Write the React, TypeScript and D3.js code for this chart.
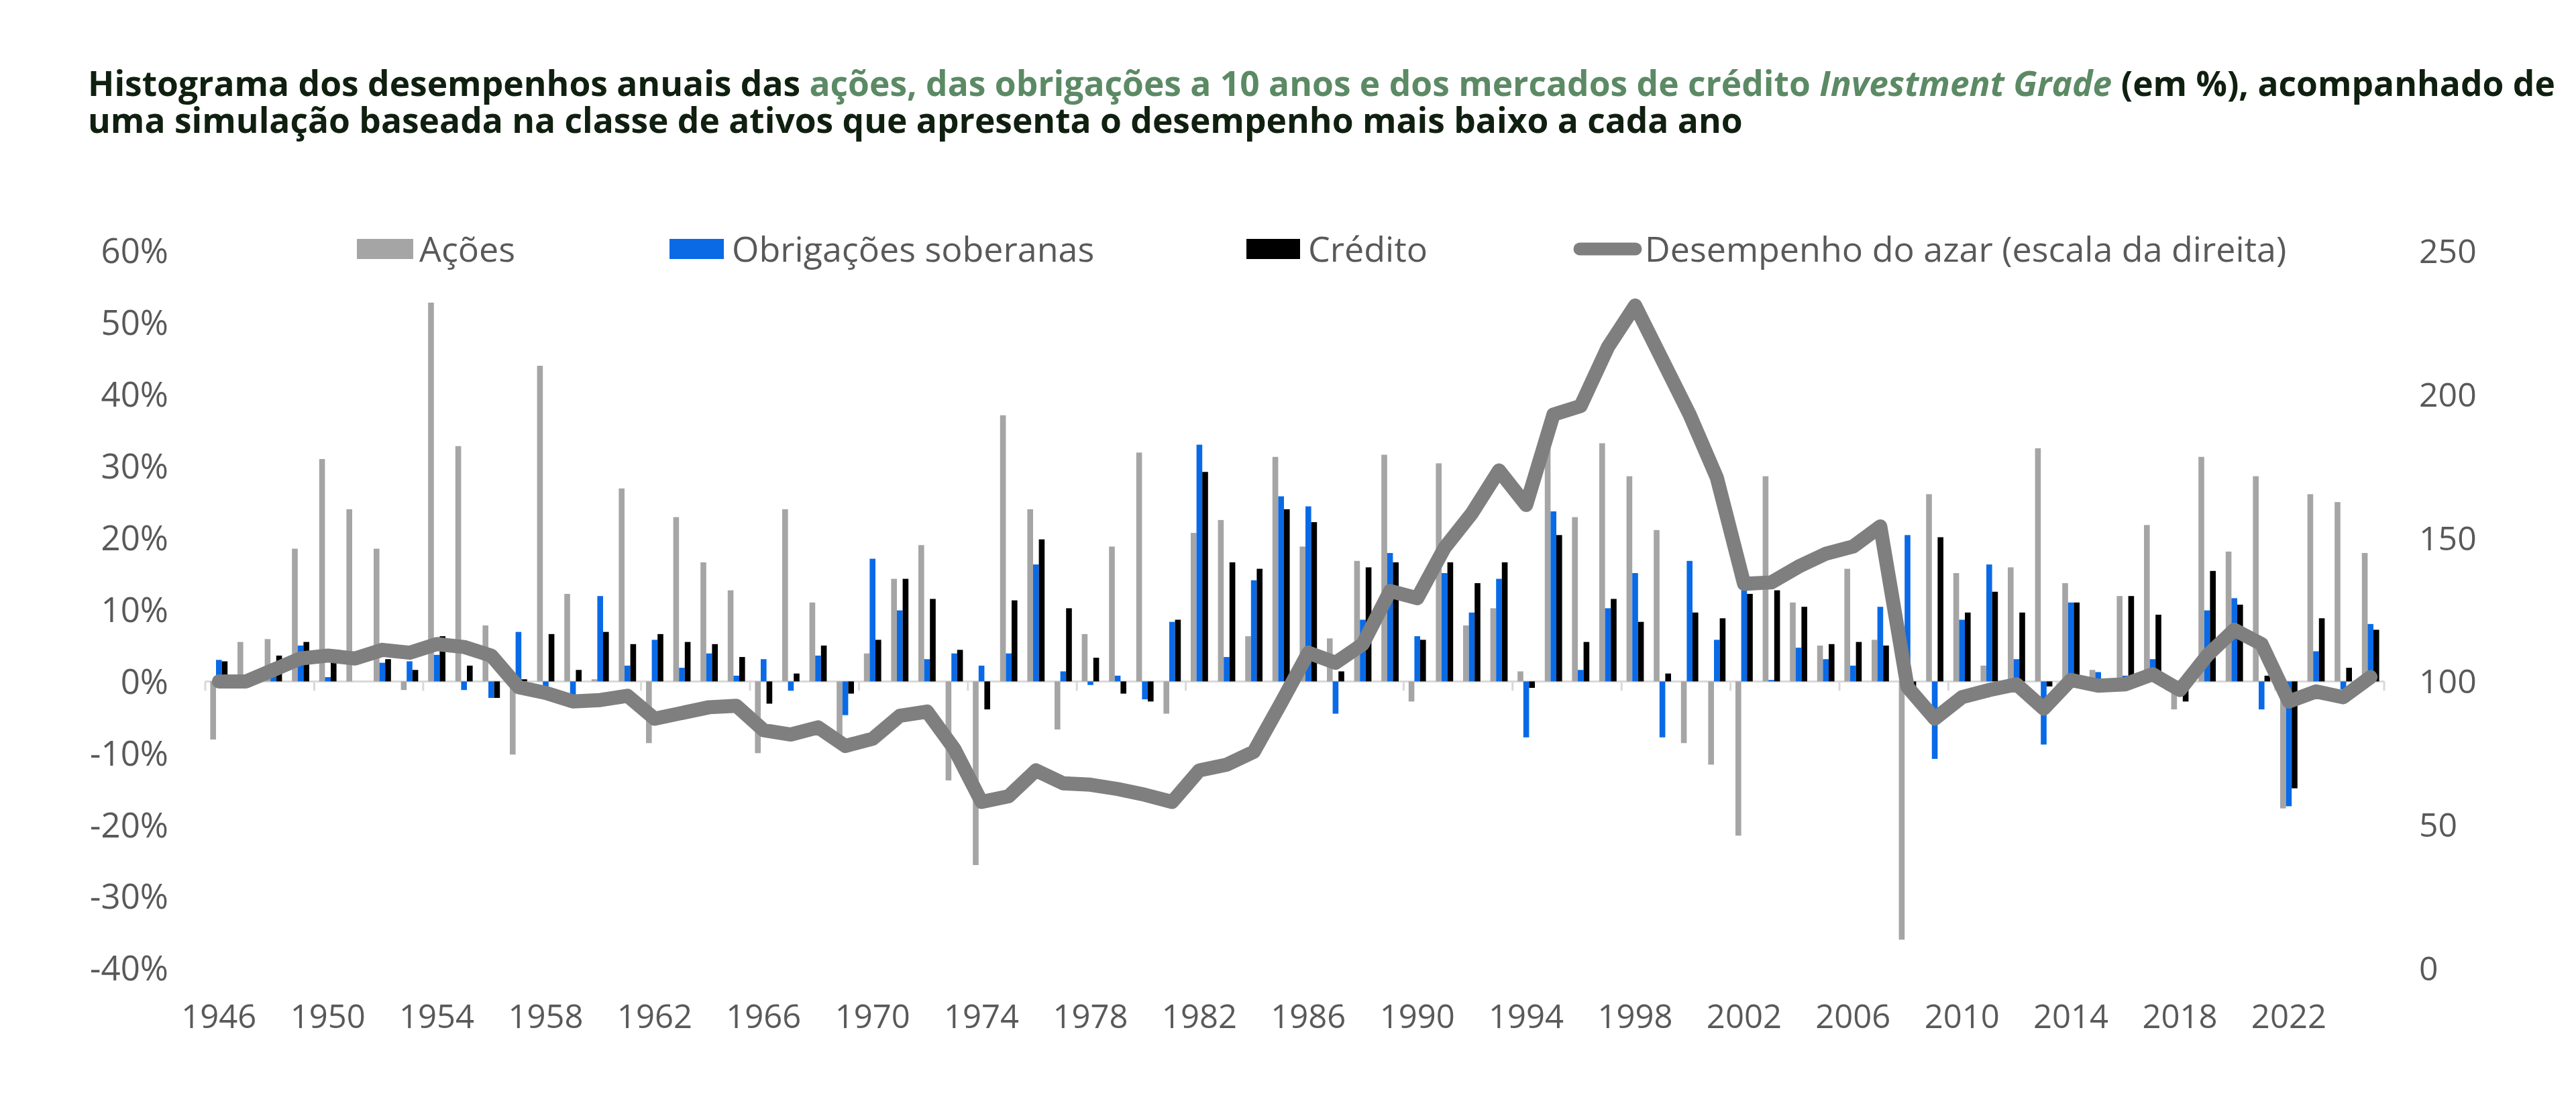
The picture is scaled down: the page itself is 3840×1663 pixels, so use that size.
import * as d3 from "d3";
import { useEffect, useRef } from "react";

const years = d3.range(1946, 2026);

// rendimentos anuais (%)
const acoes = [
  -8.1, 5.5, 5.9, 18.5, 31, 24, 18.5, -1.2, 52.8, 32.8,
  7.8, -10.2, 44, 12.2, 0.3, 26.9, -8.6, 22.9, 16.6, 12.7,
  -10, 24, 11, -7.8, 3.9, 14.3, 19, -13.8, -25.6, 37.1,
  24, -6.7, 6.6, 18.8, 31.9, -4.5, 20.7, 22.5, 6.3, 31.3,
  18.8, 6, 16.8, 31.6, -2.8, 30.4, 7.8, 10.2, 1.4, 36,
  22.9, 33.2, 28.6, 21.1, -8.6, -11.6, -21.5, 28.6, 11, 5,
  15.7, 5.8, -36, 26.1, 15.1, 2.2, 15.9, 32.5, 13.7, 1.6,
  11.9, 21.8, -3.9, 31.3, 18.1, 28.6, -17.7, 26.1, 25, 17.9,
];
const obrigacoes = [
  3.0, 0, 2.2, 5, 0.6, 0, 2.6, 2.8, 3.7, -1.2,
  -2.3, 6.9, -1.2, -2.3, 11.9, 2.2, 5.8, 1.9, 3.9, 0.8,
  3.1, -1.3, 3.6, -4.7, 17.1, 9.9, 3.1, 3.9, 2.2, 3.9,
  16.3, 1.4, -0.5, 0.8, -2.5, 8.3, 33, 3.4, 14.1, 25.8,
  24.4, -4.5, 8.6, 17.9, 6.3, 15.1, 9.6, 14.3, -7.8, 23.7,
  1.6, 10.2, 15.1, -7.8, 16.8, 5.8, 12.7, 0.2, 4.7, 3.1,
  2.2, 10.4, 20.4, -10.8, 8.6, 16.3, 3.1, -8.8, 11, 1.3,
  0.8, 3.1, 0.1, 9.9, 11.6, -3.9, -17.4, 4.2, -1.1, 8,
];
const credito = [
  2.8, 0, 3.6, 5.5, 4.3, 0, 3.1, 1.6, 6.3, 2.2,
  -2.3, 0.3, 6.6, 1.6, 6.9, 5.2, 6.6, 5.5, 5.2, 3.4,
  -3.1, 1.1, 5, -1.7, 5.8, 14.3, 11.5, 4.4, -3.9, 11.3,
  19.8, 10.2, 3.3, -1.7, -2.8, 8.6, 29.2, 16.6, 15.7, 24,
  22.2, 1.4, 15.9, 16.6, 5.8, 16.6, 13.7, 16.6, -0.9, 20.4,
  5.5, 11.5, 8.3, 1.1, 9.6, 8.8, 12.2, 12.7, 10.4, 5.2,
  5.5, 5, -2.5, 20.1, 9.6, 12.5, 9.6, -0.7, 11, 0.2,
  11.9, 9.3, -2.8, 15.4, 10.7, 0.8, -14.9, 8.8, 1.9, 7.2,
];
// simulação (escala da direita)
const azar = [
  100, 100, 104, 108, 109, 108, 111, 110, 113, 112,
  109, 98, 96, 93, 93.5, 95, 87, 89, 91, 91.5,
  83, 81.5, 84, 77.5, 80, 88, 89.5, 76.5, 58, 60,
  69, 64.5, 64, 62.5, 60.5, 58, 69, 71, 75.5, 92.5,
  110, 106.5, 113, 131.5, 129, 146.5, 158.5, 173.5, 161.5, 193,
  196, 216.5, 231, 212, 193, 171, 134, 134.5, 140, 144.5,
  147, 154, 98, 87, 94.5, 97, 99, 90.5, 100.5, 98.5,
  99, 102.5, 97, 109, 118, 113, 93, 96.5, 94.5, 101.5,
];

const leftTicks = [60, 50, 40, 30, 20, 10, 0, -10, -20, -30, -40];
const rightTicks = [250, 200, 150, 100, 50, 0];

const seriesNames = ["Ações", "Obrigações soberanas", "Crédito"];
const seriesColors = ["#a5a5a5", "#0a6ae6", "#000000"];
const lineName = "Desempenho do azar (escala da direita)";

const W = 3840;
const H = 1663;
const FONT = "'Open Sans', 'Noto Sans', sans-serif";

const App = () => {
  const ref = useRef<SVGSVGElement | null>(null);

  useEffect(() => {
    const svg = d3.select(ref.current);
    svg.selectAll("*").remove();

    const plot = { left: 306, right: 3554, top: 374, bottom: 1443 };

    const x = d3.scaleBand<number>().domain(years).range([plot.left, plot.right]);
    const bw = x.bandwidth();
    const groupW = 25.8;
    const xi = d3
      .scaleBand<number>()
      .domain([0, 1, 2])
      .range([(bw - groupW) / 2, (bw + groupW) / 2]);

    const yL = d3.scaleLinear().domain([-40, 60]).range([plot.bottom, plot.top]);
    const yR = d3.scaleLinear().domain([0, 250]).range([plot.bottom, plot.top]);

    // title
    const title = svg
      .append("text")
      .attr("x", 131)
      .attr("y", 143)
      .style("font-family", FONT)
      .style("font-weight", "700")
      .style("font-size", "51.5px")
      .style("fill", "#102010");
    title.append("tspan").text("Histograma dos desempenhos anuais das ");
    title
      .append("tspan")
      .style("fill", "#5b8a64")
      .text("ações, das obrigações a 10 anos e dos mercados de crédito ");
    title
      .append("tspan")
      .style("fill", "#5b8a64")
      .style("font-style", "italic")
      .text("Investment Grade");
    title.append("tspan").text(" (em %), acompanhado de");
    svg
      .append("text")
      .attr("x", 131)
      .attr("y", 198)
      .style("font-family", FONT)
      .style("font-weight", "700")
      .style("font-size", "51.5px")
      .style("fill", "#102010")
      .text("uma simulação baseada na classe de ativos que apresenta o desempenho mais baixo a cada ano");

    const labelStyle = (size: number) => (sel: any) =>
      sel.style("font-family", FONT).style("font-size", `${size}px`).style("fill", "#595959");

    // left axis
    svg
      .append("g")
      .selectAll("text")
      .data(leftTicks)
      .enter()
      .append("text")
      .attr("x", 251)
      .attr("y", (d) => yL(d))
      .attr("dy", "0.36em")
      .attr("text-anchor", "end")
      .text((d) => `${d}%`)
      .call(labelStyle(51));

    // right axis
    svg
      .append("g")
      .selectAll("text")
      .data(rightTicks)
      .enter()
      .append("text")
      .attr("x", 3606)
      .attr("y", (d) => yR(d))
      .attr("dy", "0.36em")
      .attr("text-anchor", "start")
      .text((d) => d)
      .call(labelStyle(50));

    // zero line and ticks
    const y0 = yL(0);
    svg
      .append("line")
      .attr("x1", plot.left)
      .attr("x2", plot.right)
      .attr("y1", y0)
      .attr("y2", y0)
      .style("stroke", "#d9d9d9")
      .style("stroke-width", 3);
    svg
      .append("g")
      .selectAll("line")
      .data(years.filter((_, i) => i % 4 === 0).concat([2026]))
      .enter()
      .append("line")
      .attr("x1", (d) => (d === 2026 ? plot.right : x(d)!))
      .attr("x2", (d) => (d === 2026 ? plot.right : x(d)!))
      .attr("y1", y0)
      .attr("y2", y0 + 14)
      .style("stroke", "#d9d9d9")
      .style("stroke-width", 3);

    // x labels
    svg
      .append("g")
      .selectAll("text")
      .data(years.filter((_, i) => i % 4 === 0))
      .enter()
      .append("text")
      .attr("x", (d) => x(d)! + bw / 2)
      .attr("y", 1532)
      .attr("text-anchor", "middle")
      .text((d) => d)
      .call(labelStyle(49));

    // bars
    const seriesData = [acoes, obrigacoes, credito];
    seriesData.forEach((vals, s) => {
      svg
        .append("g")
        .selectAll("rect")
        .data(vals)
        .enter()
        .append("rect")
        .attr("x", (_, i) => x(years[i])! + xi(s)!)
        .attr("width", xi.bandwidth())
        .attr("y", (d) => Math.min(yL(d), y0))
        .attr("height", (d) => Math.abs(yL(d) - y0))
        .attr("fill", seriesColors[s]);
    });

    // line
    const line = d3
      .line<number>()
      .x((_, i) => x(years[i])! + bw / 2)
      .y((d) => yR(d));
    svg
      .append("path")
      .datum(azar)
      .attr("d", line)
      .attr("fill", "none")
      .attr("stroke", "#7f7f7f")
      .attr("stroke-width", 21)
      .attr("stroke-linejoin", "round")
      .attr("stroke-linecap", "round");

    // legend
    const legendY = 371;
    const swatches = [
      { x: 532, w: 84, tx: 625 },
      { x: 998, w: 81, tx: 1091 },
      { x: 1858, w: 80, tx: 1950 },
    ];
    const legend = svg.append("g");
    swatches.forEach((sw, i) => {
      legend
        .append("rect")
        .attr("x", sw.x)
        .attr("y", legendY - 15)
        .attr("width", sw.w)
        .attr("height", 30)
        .attr("fill", seriesColors[i]);
      legend
        .append("text")
        .attr("x", sw.tx)
        .attr("y", legendY)
        .attr("dy", "0.36em")
        .text(seriesNames[i])
        .call(labelStyle(52));
    });
    legend
      .append("line")
      .attr("x1", 2355)
      .attr("x2", 2438)
      .attr("y1", legendY)
      .attr("y2", legendY)
      .attr("stroke", "#7f7f7f")
      .attr("stroke-width", 19)
      .attr("stroke-linecap", "round");
    legend
      .append("text")
      .attr("x", 2452)
      .attr("y", legendY)
      .attr("dy", "0.36em")
      .text(lineName)
      .call(labelStyle(52));
  }, []);

  return (
    <svg
      ref={ref}
      width={W}
      height={H}
      style={{ position: "absolute", left: 0, top: 0, background: "#fff" }}
    />
  );
};

export default App;
